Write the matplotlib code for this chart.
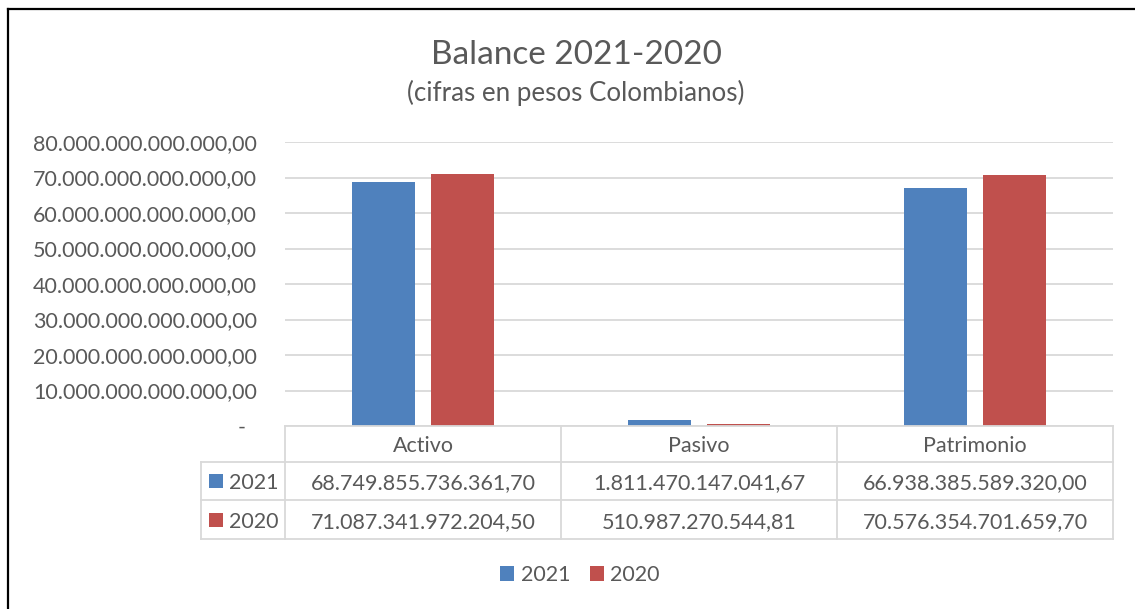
import matplotlib
matplotlib.use("Agg")
import matplotlib.pyplot as plt
import matplotlib.transforms as mtransforms
from matplotlib.lines import Line2D
from matplotlib.patches import Rectangle
import numpy as np

# ---------------- data ----------------
categories = ["Activo", "Pasivo", "Patrimonio"]
series_names = ["2021", "2020"]
values_2021 = [68749855736361.70, 1811470147041.67, 66938385589320.00]
values_2020 = [71087341972204.50, 510987270544.81, 70576354701659.70]
y_ticks = [0, 10e12, 20e12, 30e12, 40e12, 50e12, 60e12, 70e12, 80e12]
title = "Balance 2021-2020"
subtitle = "(cifras en pesos Colombianos)"

# ---------------- style ----------------
colors = ["#4F81BD", "#C0504D"]
text_color = "#595959"
grid_color = "#D9D9D9"
plt.rcParams["font.family"] = ["Lato", "DejaVu Sans"]
fs = 15.5


def fmt_es(v):
    s = f"{v:,.2f}"
    return s.replace(",", "X").replace(".", ",").replace("X", ".")


W, H = 1135, 609
fig = plt.figure(figsize=(W / 100, H / 100), dpi=100)


def fx(x):
    return x / W


def fy(y):
    return 1 - y / H


ax_left, ax_right, ax_top, ax_bottom = 285, 1113, 142, 426
ax = fig.add_axes([fx(ax_left), fy(ax_bottom), (ax_right - ax_left) / W, (ax_bottom - ax_top) / H])

x = np.arange(len(categories))
w = 0.225
off = 0.143
ax.bar(x - off, values_2021, w, color=colors[0], zorder=3)
ax.bar(x + off, values_2020, w, color=colors[1], zorder=3)
ax.set_xlim(-0.5, len(categories) - 0.5)
ax.set_ylim(0, y_ticks[-1])
ax.set_yticks(y_ticks)
ax.set_yticklabels(["-  " if v == 0 else fmt_es(v) for v in y_ticks])
ax.tick_params(axis="y", length=0, pad=20, labelsize=fs, labelcolor=text_color)
ax.set_xticks([])
for s in ax.spines.values():
    s.set_visible(False)
ax.yaxis.grid(True, color=grid_color, lw=1.3, zorder=0)
ax.set_axisbelow(True)

# ---------------- data table ----------------
tr = mtransforms.blended_transform_factory(ax.transData, fig.transFigure)
ft = fig.transFigure
lw_tab = 1.3
edges = np.arange(len(categories) + 1) - 0.5
y_head_top, y_row1, y_row2, y_bot = 426, 462, 500, 539
label_left = 201
right_fig = ax.get_position().x1

# horizontal lines
fig.add_artist(Line2D([fx(ax_left), right_fig], [fy(y_head_top)] * 2, transform=ft, color=grid_color, lw=lw_tab))
for yy in (y_row1, y_row2, y_bot):
    fig.add_artist(Line2D([fx(label_left), right_fig], [fy(yy)] * 2, transform=ft, color=grid_color, lw=lw_tab))
# vertical lines
for e in edges:
    fig.add_artist(Line2D([e, e], [fy(y_head_top), fy(y_bot)], transform=tr, color=grid_color, lw=lw_tab))
fig.add_artist(Line2D([fx(label_left)] * 2, [fy(y_row1), fy(y_bot)], transform=ft, color=grid_color, lw=lw_tab))

# header
for i, c in enumerate(categories):
    fig.text(x[i], fy(452), c, transform=tr, ha="center", va="baseline", fontsize=fs, color=text_color)

rows = [values_2021, values_2020]
row_base = [489, 528]
row_mid = [481, 520]
for r, (vals, name) in enumerate(zip(rows, series_names)):
    fig.add_artist(Rectangle((fx(209), fy(row_mid[r] + 7)), 14 / W, 14 / H, transform=ft,
                             facecolor=colors[r], edgecolor="none"))
    fig.text(fx(229), fy(row_base[r]), name, ha="left", va="baseline", fontsize=fs, color=text_color)
    for i, v in enumerate(vals):
        fig.text(x[i], fy(row_base[r]), fmt_es(v), transform=tr, ha="center", va="baseline",
                 fontsize=fs, color=text_color)

# ---------------- titles ----------------
fig.text(fx(576), fy(64), title, ha="center", va="baseline", fontsize=24, color=text_color)
fig.text(fx(576), fy(101), subtitle, ha="center", va="baseline", fontsize=18.6, color=text_color)

# ---------------- legend ----------------
handles = [Rectangle((0, 0), 1, 1, facecolor=c, edgecolor="none") for c in colors]
fig.legend(handles, series_names, loc="center", bbox_to_anchor=(fx(580), fy(575)), ncol=2,
           frameon=False, fontsize=fs, handlelength=0.65, handleheight=0.65, handletextpad=0.3,
           columnspacing=0.9, labelcolor=text_color)

# ---------------- outer frame ----------------
fig.add_artist(Line2D([fx(8), fx(8)], [fy(9), -0.1], transform=ft, color="black", lw=1.6))
fig.add_artist(Line2D([fx(8), 1.1], [fy(9), fy(9)], transform=ft, color="black", lw=1.6))

fig.savefig("out.png", dpi=100, facecolor="white")
